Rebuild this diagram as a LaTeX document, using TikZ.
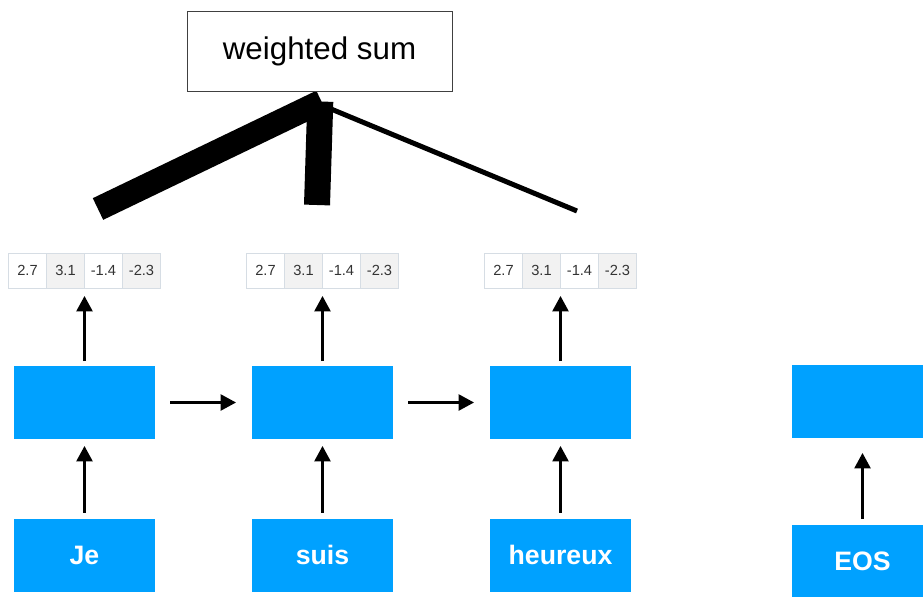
\documentclass[tikz,border=0pt]{standalone}
\usepackage{fontspec}
\setmainfont{Liberation Sans}
\usepackage{xcolor}
\usepackage{tikz}
\usetikzlibrary{arrows.meta,backgrounds}

\definecolor{rnnblue}{RGB}{0,161,255}
\definecolor{cellline}{RGB}{214,221,228}
\definecolor{cellgray}{RGB}{242,242,242}
\definecolor{celltext}{RGB}{51,51,51}

\begin{document}
\begin{tikzpicture}[x=0.75pt,y=0.75pt,yscale=-1,xscale=1,
  rnnbox/.style={fill=rnnblue, minimum width=105.75pt, minimum height=54.75pt, inner sep=0pt, outer sep=0pt, text=white, font=\fontsize{20}{24}\selectfont\bfseries},
  cellw/.style={draw=cellline, line width=0.75pt, fill=white, minimum width=28.5pt, minimum height=26.25pt, inner sep=0pt, outer sep=0pt, text=celltext, font=\fontsize{11}{13}\selectfont},
  cellg/.style={cellw, fill=cellgray},
  arr/.style={-{Triangle[length=11.5pt,width=12pt]}, line width=1.7pt},
  ]
\useasboundingbox (0,0) rectangle (923,596);

% Text Node
\node [draw=black!75, line width=0.75pt, fill=white, minimum width=198.75pt, minimum height=60pt, inner sep=0pt, font=\fontsize{23.5}{28}\selectfont] (ws) at (319.5,51) {weighted sum};

% Encoder cells
\node [rnnbox] (enc1) at (84.5,402.5) {};
\node [rnnbox] (enc2) at (322.5,402.5) {};
\node [rnnbox] (enc3) at (560.5,402.5) {};
\node [rnnbox] (enc4) at (862.5,401.5) {};

% Input words
\node [rnnbox] (in1) at (84.5,555) {Je};
\node [rnnbox] (in2) at (322.5,555) {suis};
\node [rnnbox] (in3) at (560.5,555) {heureux};
\node [rnnbox] (in4) at (862.5,561) {EOS};

% Hidden state vectors
\foreach \t/\x in {1/27.5,2/265.5,3/503.5}{
  \node [cellw] (v\t c1) at (\x,270.5) {2.7};
  \node [cellg] (v\t c2) at (\x+38,270.5) {3.1};
  \node [cellw] (v\t c3) at (\x+76,270.5) {-1.4};
  \node [cellg] (v\t c4) at (\x+114,270.5) {-2.3};
}

% Weights
\coordinate (w1) at (98,209);
\coordinate (w2) at (317,205);
\coordinate (w3) at (577,211);
\begin{scope}[on background layer]
\draw [line width=18pt] (w1) -- ([xshift=1.5pt,yshift=7.5pt]ws.south);
\draw [line width=19.5pt] (w2) -- ([xshift=0.6pt,yshift=7.5pt]ws.south);
\draw [line width=3.75pt] (w3) -- ([xshift=-4.9pt,yshift=7.5pt]ws.south);
\end{scope}

% Connections
\draw [arr, shorten <=3.75pt, shorten >=6pt] (enc1.north) -- (v1c2.south east);
\draw [arr, shorten <=3.75pt, shorten >=6pt] (enc2.north) -- (v2c2.south east);
\draw [arr, shorten <=3.75pt, shorten >=6pt] (enc3.north) -- (v3c2.south east);

\draw [arr, shorten <=4.5pt, shorten >=5.25pt] (in1) -- (enc1);
\draw [arr, shorten <=4.5pt, shorten >=5.25pt] (in2) -- (enc2);
\draw [arr, shorten <=4.5pt, shorten >=5.25pt] (in3) -- (enc3);
\draw [arr, shorten <=4.5pt, shorten >=11.25pt] (in4) -- (enc4);

\draw [arr, shorten <=11.25pt, shorten >=12pt] (enc1) -- (enc2);
\draw [arr, shorten <=11.25pt, shorten >=12pt] (enc2) -- (enc3);

\end{tikzpicture}
\end{document}
